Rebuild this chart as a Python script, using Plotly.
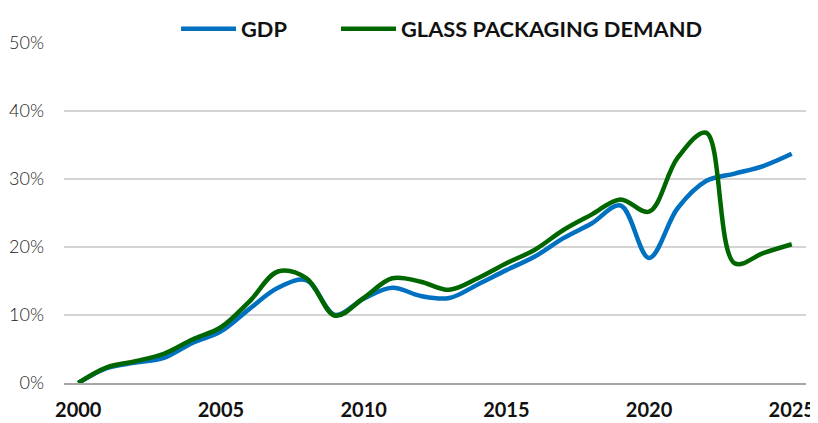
import plotly.graph_objects as go

years = list(range(2000, 2026))
gdp = [0.0, 2.2, 3.0, 3.7, 5.9, 7.6, 10.9, 14.0, 15.1, 10.0, 12.4, 14.0, 12.8, 12.5,
       14.5, 16.6, 18.6, 21.3, 23.5, 26.1, 18.4, 25.7, 29.7, 30.8, 31.9, 33.7]
glass = [0.0, 2.3, 3.2, 4.3, 6.4, 8.2, 12.0, 16.4, 15.4, 9.9, 12.5, 15.4, 14.9, 13.7,
         15.4, 17.6, 19.6, 22.5, 24.8, 27.0, 25.2, 33.1, 36.8, 17.6, 19.1, 20.4]
gdp = [v / 100 for v in gdp]
glass = [v / 100 for v in glass]
series_names = ["GDP", "GLASS PACKAGING DEMAND"]
x_ticks = [2000, 2005, 2010, 2015, 2020, 2025]
y_ticks = [0, 0.1, 0.2, 0.3, 0.4, 0.5]

fig = go.Figure()
fig.add_trace(go.Scatter(x=years, y=gdp, name=series_names[0], mode="lines", legend="legend",
                         line=dict(color="#0070C0", width=4.5, shape="spline", smoothing=1.0)))
fig.add_trace(go.Scatter(x=years, y=glass, name=series_names[1], mode="lines", legend="legend2",
                         line=dict(color="#006600", width=4.5, shape="spline", smoothing=1.0)))

legend_common = dict(orientation="h", xanchor="left", y=1.1029, yanchor="top",
                     yref="paper", font=dict(size=21.8, color="#111", weight="bold"),
                     itemwidth=55, bgcolor="rgba(0,0,0,0)")

fig.update_layout(
    width=810, height=415,
    margin=dict(l=56, r=12, t=35, b=40, autoexpand=False),
    plot_bgcolor="white", paper_bgcolor="white",
    font=dict(family="Lato, DejaVu Sans, sans-serif", color="#222"),
    showlegend=True,
    legend=dict(x=0.151, **legend_common),
    legend2=dict(x=0.3666, **legend_common),
    xaxis=dict(range=[1999.5, 2025.5], tickvals=x_ticks, ticktext=[str(v) for v in x_ticks],
               showgrid=False, showline=True, linecolor="#a6a6a6", linewidth=2,
               ticks="", tickfont=dict(size=20, color="#111", weight="bold"),
               ticklabelstandoff=8, zeroline=False),
    yaxis=dict(range=[0, 0.5], tickvals=y_ticks, tickformat=".0%",
               showgrid=True, gridcolor="#d4d4d4", gridwidth=2, zeroline=False,
               ticks="", tickfont=dict(size=18, color="#222", weight=300),
               ticklabelstandoff=19),
)

fig.write_html("out.html")
